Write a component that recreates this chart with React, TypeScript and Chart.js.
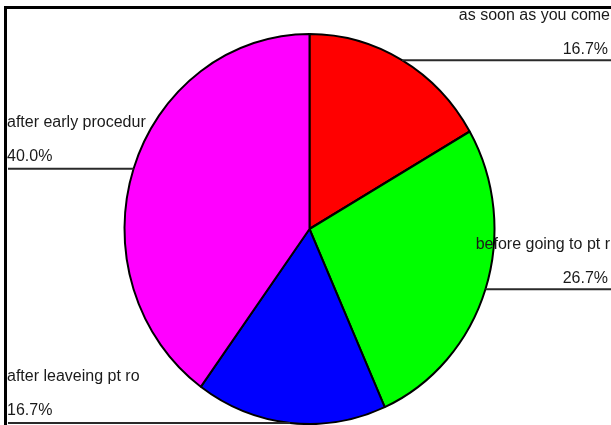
import React, { useEffect, useRef } from "react";
import { Chart, registerables } from "chart.js";

Chart.register(...registerables);

const categories = [
  "as soon as you come",
  "before going to pt r",
  "after leaveing pt ro",
  "after early procedur",
];
const counts = [5, 8, 5, 12];
const percentLabels = ["16.7%", "26.7%", "16.7%", "40.0%"];
const sliceColors = ["#ff0000", "#00ff00", "#0000ff", "#ff00ff"];

const W = 611;
const H = 425;
const Y_STRETCH = 195 / 185;

const ellipsePlugin = {
  id: "ellipse",
  beforeDatasetsDraw(chart: any) {
    const arc = chart.getDatasetMeta(0).data[0];
    if (!arc) return;
    const { ctx } = chart;
    ctx.save();
    ctx.translate(arc.x, arc.y);
    ctx.scale(1, Y_STRETCH);
    ctx.translate(-arc.x, -arc.y);
  },
  afterDatasetsDraw(chart: any) {
    chart.ctx.restore();
  },
};

const labelPlugin = {
  id: "sideLabels",
  afterDraw(chart: any) {
    const { ctx } = chart;
    const meta = chart.getDatasetMeta(0);
    ctx.save();
    // frame
    ctx.strokeStyle = "#000";
    ctx.lineWidth = 3;
    ctx.strokeRect(5.5, 7.5, W + 50, H + 50);

    ctx.font = "16px 'Liberation Sans', Arial, sans-serif";
    ctx.textBaseline = "middle";
    meta.data.forEach((arc: any, i: number) => {
      const mid = (arc.startAngle + arc.endAngle) / 2;
      const r = arc.outerRadius;
      const px = arc.x + r * Math.cos(mid);
      const py = arc.y + r * Y_STRETCH * Math.sin(mid);
      const right = Math.cos(mid) >= 0;
      ctx.strokeStyle = "#2a2a2a";
      ctx.lineWidth = 2;
      ctx.beginPath();
      ctx.moveTo(px, py);
      ctx.lineTo(right ? W : 8, py);
      ctx.stroke();
      ctx.fillStyle = "#1a1a1a";
      if (right) {
        ctx.textAlign = "right";
        ctx.fillText(categories[i], 610, py - 45);
        ctx.fillText(percentLabels[i], 608, py - 11);
      } else {
        ctx.textAlign = "left";
        ctx.fillText(categories[i], 7, py - 46);
        ctx.fillText(percentLabels[i], 7, py - 12);
      }
    });
    ctx.restore();
  },
};

export default function App() {
  const ref = useRef<HTMLCanvasElement | null>(null);
  useEffect(() => {
    if (!ref.current) return;
    const chart = new Chart(ref.current, {
      type: "pie",
      data: {
        labels: categories,
        datasets: [
          {
            data: counts,
            backgroundColor: sliceColors,
            borderColor: "#000",
            borderWidth: 2,
            radius: 185,
            clip: false,
          } as any,
        ],
      },
      options: {
        responsive: false,
        animation: false,
        layout: { padding: { left: 8, right: 0, top: 33, bottom: 0 } },
        plugins: {
          legend: { display: false },
          tooltip: { enabled: false },
        },
      },
      plugins: [ellipsePlugin, labelPlugin],
    });
    return () => chart.destroy();
  }, []);
  return (
    <div style={{ position: "fixed", left: 0, top: 0, width: W, height: H, background: "#fff" }}>
      <canvas ref={ref} width={W} height={H} style={{ width: W, height: H, display: "block" }} />
    </div>
  );
}
